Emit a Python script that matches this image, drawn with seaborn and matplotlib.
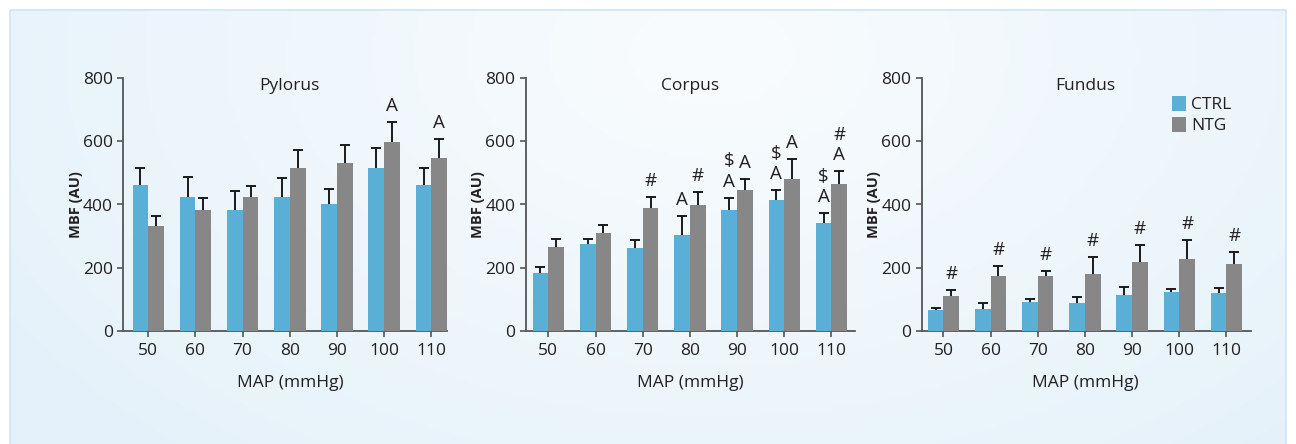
import numpy as np
import pandas as pd
import matplotlib
matplotlib.use("Agg")
import matplotlib.pyplot as plt
import matplotlib.transforms as mtransforms
from matplotlib.patches import Rectangle, Patch
import seaborn as sns

# ---------------- data ----------------
MAP = ["50", "60", "70", "80", "90", "100", "110"]
groups = ["CTRL", "NTG"]
panels = ["Pylorus", "Corpus", "Fundus"]

pylorus_ctrl = [462, 424, 383, 424, 402, 516, 462]
pylorus_ctrl_sem = [55, 64, 60, 59, 47, 64, 55]
pylorus_ntg = [332, 383, 424, 516, 532, 598, 548]
pylorus_ntg_sem = [32, 37, 36, 57, 58, 65, 60]

corpus_ctrl = [183, 275, 262, 303, 383, 415, 341]
corpus_ctrl_sem = [20, 16, 26, 61, 39, 30, 32]
corpus_ntg = [265, 310, 389, 398, 446, 481, 465]
corpus_ntg_sem = [26, 26, 35, 43, 35, 62, 40]

fundus_ctrl = [66, 69, 91, 88, 113, 123, 120]
fundus_ctrl_sem = [7, 18, 11, 18, 25, 10, 14]
fundus_ntg = [110, 173, 173, 180, 218, 227, 211]
fundus_ntg_sem = [20, 32, 17, 53, 55, 60, 38]

# significance marks, bottom to top
pylorus_ctrl_marks = [[], [], [], [], [], [], []]
pylorus_ntg_marks = [[], [], [], [], [], ["A"], ["A"]]
corpus_ctrl_marks = [[], [], [], ["A"], ["A", "$"], ["A", "$"], ["A", "$"]]
corpus_ntg_marks = [[], [], ["#"], ["#"], ["A"], ["A"], ["A", "#"]]
fundus_ctrl_marks = [[], [], [], [], [], [], []]
fundus_ntg_marks = [["#"], ["#"], ["#"], ["#"], ["#"], ["#"], ["#"]]

yticks = [0, 200, 400, 600, 800]

series = {
    "Pylorus": (pylorus_ctrl, pylorus_ctrl_sem, pylorus_ntg, pylorus_ntg_sem,
                pylorus_ctrl_marks, pylorus_ntg_marks),
    "Corpus": (corpus_ctrl, corpus_ctrl_sem, corpus_ntg, corpus_ntg_sem,
               corpus_ctrl_marks, corpus_ntg_marks),
    "Fundus": (fundus_ctrl, fundus_ctrl_sem, fundus_ntg, fundus_ntg_sem,
               fundus_ctrl_marks, fundus_ntg_marks),
}

# ---------------- style ----------------
sns.set_theme(style="white")
plt.rcParams["font.family"] = ["Open Sans", "DejaVu Sans"]
colors = {"CTRL": "#5AAFD6", "NTG": "#878787"}
axis_col = "#555555"
txt = "#231F20"

W, H = 1296, 444
fig = plt.figure(figsize=(W / 100, H / 100), dpi=100)
fig.patch.set_facecolor("white")

# background panel with soft gradient
bg = fig.add_axes([0, 0, 1, 1], zorder=-10)
bg.set_xlim(0, W)
bg.set_ylim(H, 0)
bg.axis("off")
gx, gy = np.meshgrid(np.linspace(0, 1, 300), np.linspace(0, 1, 120))
d = np.sqrt(((gx - 0.55) / 0.7) ** 2 + ((gy - 0.1) / 1.3) ** 2)
d = np.clip(d, 0, 1)
inner = np.array([0xF9, 0xFC, 0xFE]) / 255
outer = np.array([0xE4, 0xF1, 0xFA]) / 255
img = inner[None, None, :] * (1 - d[..., None]) + outer[None, None, :] * d[..., None]
bg.imshow(img, extent=(10, 1286, 450, 10), aspect="auto", zorder=0)
bg.add_patch(Rectangle((10, 10), 1276, 440, fill=False, ec="#CFE6F4", lw=1.2, zorder=1))

# axes geometry (pixels)
y0_px, y800_px = 330.7, 78.3
ax_h = y0_px - y800_px
step = 47.18
layout = {
    "Pylorus": (123.3, (-0.53, 6.34)),
    "Corpus": (525.7, (-0.48, 6.51)),
    "Fundus": (921.7, (-0.46, 6.53)),
}

for name in panels:
    left_px, xl = layout[name]
    w_px = (xl[1] - xl[0]) * step
    ax = fig.add_axes([left_px / W, (H - y0_px) / H, w_px / W, ax_h / H])
    ax.patch.set_alpha(0)
    ctrl, ctrl_sem, ntg, ntg_sem, cmarks, nmarks = series[name]
    df = pd.DataFrame({
        "MAP": MAP * 2,
        "group": ["CTRL"] * len(MAP) + ["NTG"] * len(MAP),
        "MBF": list(ctrl) + list(ntg),
    })
    sns.barplot(data=df, x="MAP", y="MBF", hue="group", hue_order=groups,
                order=MAP, palette=colors, width=0.667, errorbar=None,
                saturation=1, legend=False, ax=ax, zorder=3, linewidth=0)

    for cont, sem, marks in zip(ax.containers, [ctrl_sem, ntg_sem], [cmarks, nmarks]):
        xs = [p.get_x() + p.get_width() / 2 for p in cont.patches]
        hs = [p.get_height() for p in cont.patches]
        eb = ax.errorbar(xs, hs, yerr=[np.zeros(len(sem)), sem], fmt="none",
                         ecolor="#1a1a1a", elinewidth=1.4, capsize=3.3,
                         capthick=1.4, zorder=2)
        eb.lines[1][0].set_visible(False)  # hide lower caps
        for x, h, s, mk in zip(xs, hs, sem, marks):
            for i, m in enumerate(mk):
                ax.annotate(m, xy=(x, h + s), xytext=(0, 11.5 + 14.6 * i),
                            textcoords="offset points", ha="center", va="center",
                            fontsize=13.5, color=txt, annotation_clip=False)

    ax.set_xlim(*xl)
    ax.set_ylim(0, 800)
    ax.set_yticks(yticks)
    for s in ["top", "right"]:
        ax.spines[s].set_visible(False)
    for s in ["left", "bottom"]:
        ax.spines[s].set_color(axis_col)
        ax.spines[s].set_linewidth(1.3)
    ax.tick_params(axis="both", which="both", direction="out", length=4.5, width=1.2,
                   color=axis_col, labelsize=12.5, labelcolor=txt, pad=3,
                   bottom=True, left=True)
    ax.tick_params(axis="x", pad=4)

    ax.set_ylabel("MBF (AU)", fontsize=10.5, fontweight="bold", color=txt)
    ax.yaxis.label.set_va("center")
    ax.yaxis.set_label_coords(-47.5 / w_px, 0.5)
    ax.set_xlabel("MAP (mmHg)", fontsize=12.5, color=txt)
    ax.xaxis.label.set_va("center")
    ax.xaxis.set_label_coords((3 - xl[0]) / (xl[1] - xl[0]), -(383 - y0_px) / ax_h)

    trans = mtransforms.blended_transform_factory(ax.transData, ax.transAxes)
    ax.text(3, (y0_px - 86) / ax_h, name, transform=trans, ha="center",
            va="center", fontsize=12.5, color=txt)

    if name == "Fundus":
        handles = [Patch(facecolor=colors[g], edgecolor="none") for g in groups]
        ax.legend(handles, groups, loc="upper left",
                  bbox_to_anchor=((1171.7 - left_px) / w_px, (y0_px - 96) / ax_h),
                  frameon=False, fontsize=12.5, handlelength=0.8,
                  handleheight=0.95, handletextpad=0.3, labelspacing=0.2,
                  borderpad=0, borderaxespad=0, labelcolor=txt)

fig.savefig("out.png", dpi=100)
